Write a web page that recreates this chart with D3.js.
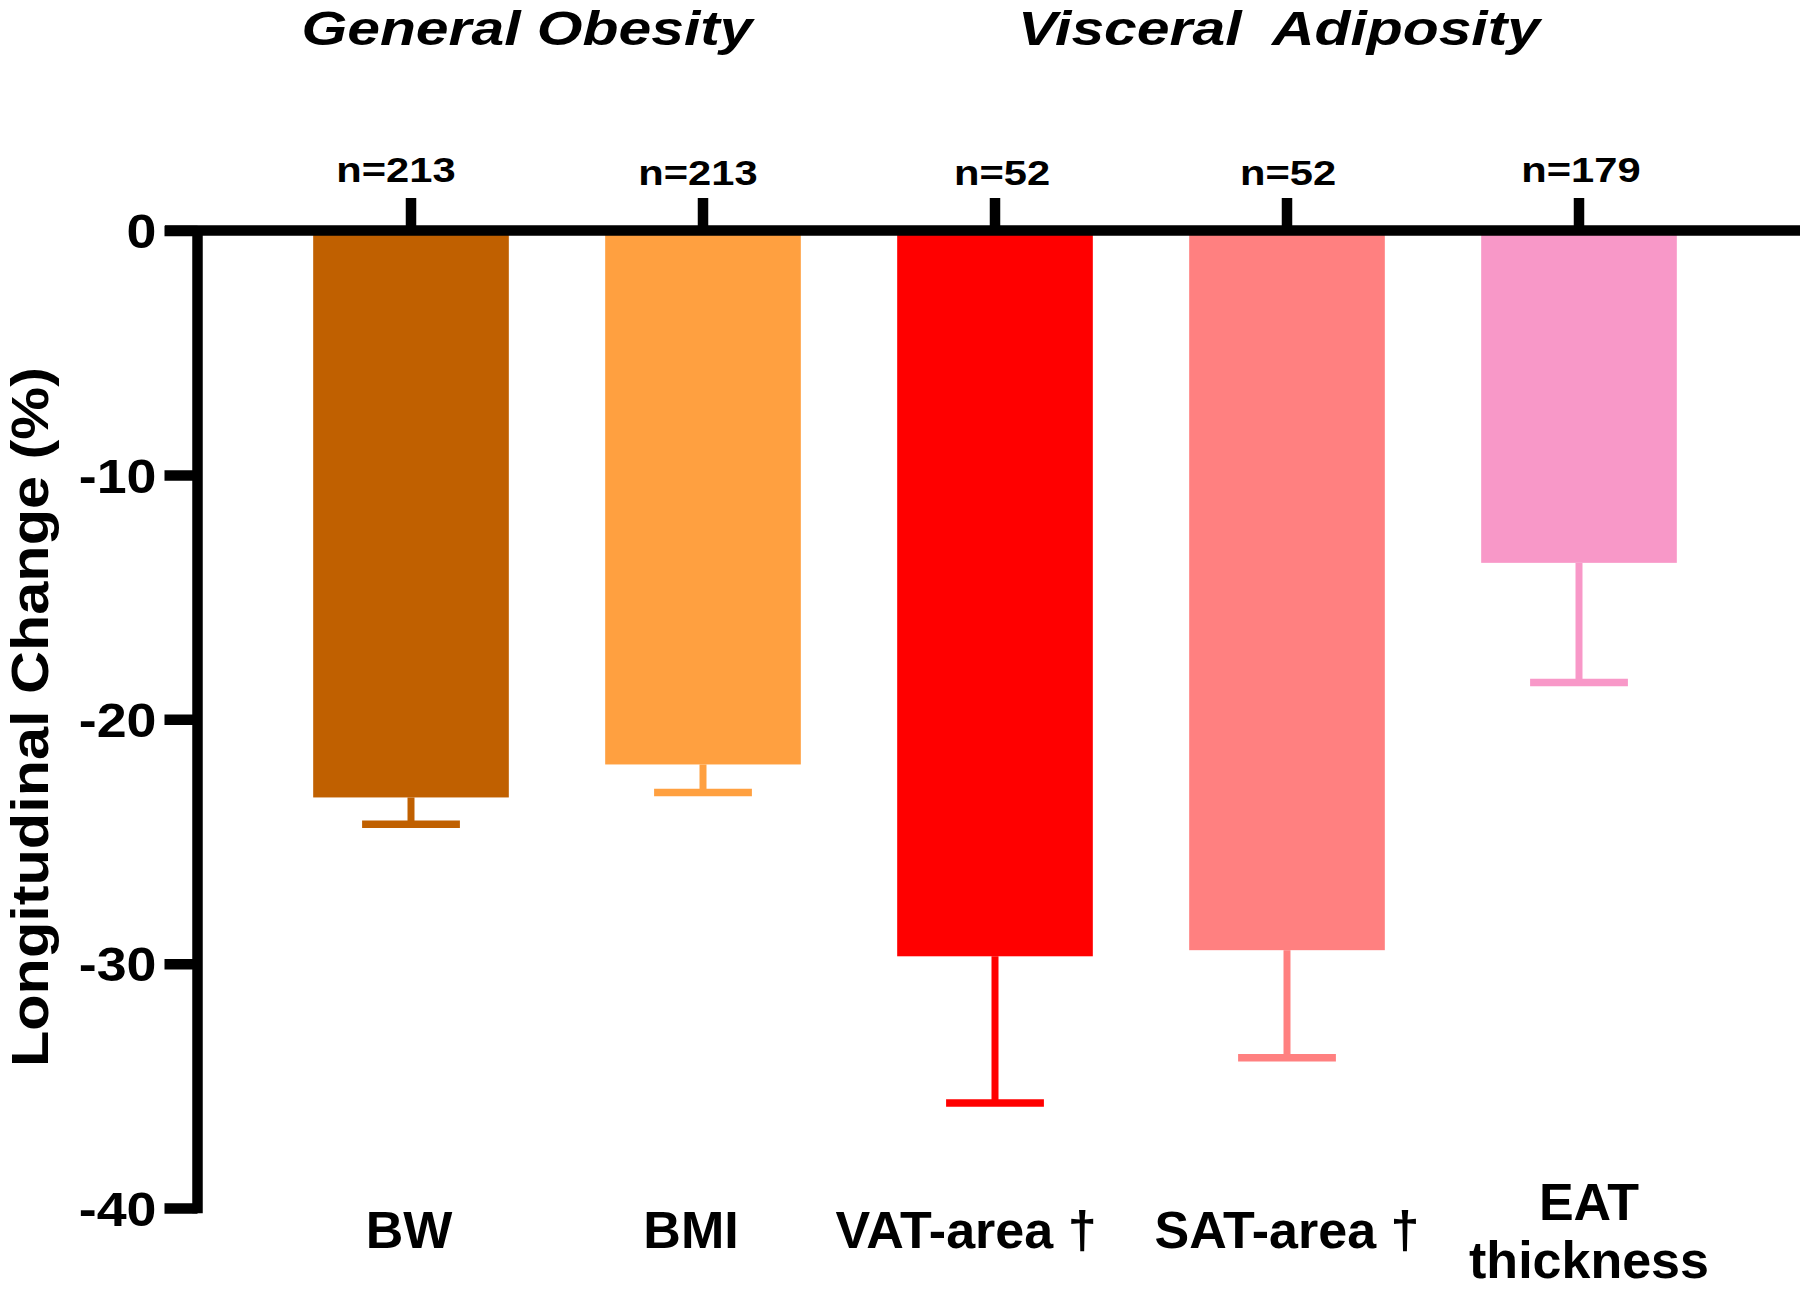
<!DOCTYPE html>
<html>
<head>
<meta charset="utf-8">
<script src="https://cdn.jsdelivr.net/npm/d3@7"></script>
<style>
  html, body { margin: 0; padding: 0; background: #fff; }
  svg { display: block; }
  text { font-family: "Liberation Sans", Arial, Helvetica, sans-serif; font-weight: bold; fill: #000; }
</style>
</head>
<body>
<svg id="chart" width="1800" height="1291"></svg>
<script>
// ---- data ----
const categories = ["BW", "BMI", "VAT-area †", "SAT-area †", "EAT thickness"];
const categoryLines = [["BW"], ["BMI"], ["VAT-area †"], ["SAT-area †"], ["EAT", "thickness"]];
const values = [-23.2, -21.85, -29.7, -29.45, -13.6];
const errors = [1.1, 1.15, 6.0, 4.4, 4.9];
const nLabels = ["n=213", "n=213", "n=52", "n=52", "n=179"];
const barColors = ["#C06000", "#FFA040", "#FF0000", "#FF8080", "#F898C8"];
const yTicks = [0, -10, -20, -30, -40];
const groupTitles = ["General Obesity", "Visceral  Adiposity"];
const yLabel = "Longitudinal Change (%)";

// ---- layout ----
const svg = d3.select("#chart");
const y = d3.scaleLinear().domain([0, -40]).range([230.5, 1208]);
const x = d3.scaleBand().domain(categories).range([265, 1725]).paddingInner(0.33).paddingOuter(0.165);
const cx = d => x(d) + x.bandwidth() / 2;
const axisW = 10.5;

function stretch(sel, f) {
  sel.each(function () {
    const w = this.getComputedTextLength();
    d3.select(this).attr("textLength", w * f).attr("lengthAdjust", "spacingAndGlyphs");
  });
}

const data = categories.map((c, i) => ({ c, v: values[i], e: errors[i], col: barColors[i], n: nLabels[i], lines: categoryLines[i] }));

// bars
svg.append("g").selectAll("rect").data(data).join("rect")
  .attr("x", d => x(d.c))
  .attr("y", y(0))
  .attr("width", x.bandwidth())
  .attr("height", d => y(d.v) - y(0))
  .attr("fill", d => d.col);

// error bars (one-sided, downward)
const eb = svg.append("g").selectAll("g").data(data).join("g");
eb.append("line")
  .attr("x1", d => cx(d.c)).attr("x2", d => cx(d.c))
  .attr("y1", d => y(d.v)).attr("y2", d => y(d.v - d.e))
  .attr("stroke", d => d.col).attr("stroke-width", 7);
eb.append("line")
  .attr("x1", d => cx(d.c) - x.bandwidth() * 0.25).attr("x2", d => cx(d.c) + x.bandwidth() * 0.25)
  .attr("y1", d => y(d.v - d.e)).attr("y2", d => y(d.v - d.e))
  .attr("stroke", d => d.col).attr("stroke-width", 7.5);

// y axis
const yAxis = d3.axisLeft(y).tickValues(yTicks).tickSize(33).tickPadding(9).tickFormat(d => String(d));
const gy = svg.append("g").attr("transform", `translate(197.5,0)`).call(yAxis);
gy.select(".domain").remove();
gy.selectAll(".tick line").attr("stroke", "#000").attr("stroke-width", axisW);
gy.selectAll(".tick text")
  .attr("font-size", 48).attr("font-family", '"Liberation Sans", Arial, sans-serif')
  .attr("font-weight", "bold").attr("fill", "#000").attr("dy", "0.36em").attr("x", -41);
gy.selectAll(".tick text").call(stretch, 1.12);
svg.append("line").attr("x1", 197.5).attr("x2", 197.5)
  .attr("y1", y(0)).attr("y2", y(-40) + axisW / 2)
  .attr("stroke", "#000").attr("stroke-width", axisW);

// x axis at zero with upward ticks
svg.append("line").attr("x1", 165).attr("x2", 1800)
  .attr("y1", y(0)).attr("y2", y(0))
  .attr("stroke", "#000").attr("stroke-width", axisW);
svg.append("g").selectAll("line").data(data).join("line")
  .attr("x1", d => cx(d.c)).attr("x2", d => cx(d.c))
  .attr("y1", y(0)).attr("y2", y(0) - 32.5)
  .attr("stroke", "#000").attr("stroke-width", axisW);

// n labels
const nNudge = [-15, -5, 7, 1, 2];
const nBase = [181.7, 185, 185, 185, 181.7];
svg.append("g").selectAll("text").data(data).join("text")
  .attr("x", (d, i) => cx(d.c) + nNudge[i])
  .attr("y", (d, i) => nBase[i])
  .attr("text-anchor", "middle")
  .attr("font-size", 35)
  .text(d => d.n)
  .call(stretch, 1.19);

// category labels
const catNudge = [-2, -12, -29, 0, 10];
const cl = svg.append("g").selectAll("text").data(data).join("text")
  .attr("text-anchor", "middle")
  .attr("font-size", 52)
  .attr("x", (d, i) => cx(d.c) + catNudge[i])
  .attr("y", d => d.lines.length > 1 ? 1220 : 1248);
cl.selectAll("tspan").data(d => d.lines.map((t, j) => ({ t, j, d }))).join("tspan")
  .attr("x", function (o) { return d3.select(this.parentNode).attr("x"); })
  .attr("dy", o => o.j === 0 ? 0 : 58)
  .text(o => o.t);

// group titles
const titleX = [527, 1279];
const titleW = [451, 522];
svg.append("g").selectAll("text").data(groupTitles).join("text")
  .attr("x", (d, i) => titleX[i]).attr("y", 45)
  .attr("text-anchor", "middle")
  .attr("font-size", 48)
  .attr("font-style", "italic")
  .style("white-space", "pre")
  .attr("textLength", (d, i) => titleW[i])
  .attr("lengthAdjust", "spacingAndGlyphs")
  .text(d => d);

// y axis title
svg.append("text")
  .attr("transform", "translate(48,717) rotate(-90)")
  .attr("text-anchor", "middle")
  .attr("font-size", 51)
  .attr("textLength", 700)
  .attr("lengthAdjust", "spacingAndGlyphs")
  .text(yLabel);
</script>
</body>
</html>
